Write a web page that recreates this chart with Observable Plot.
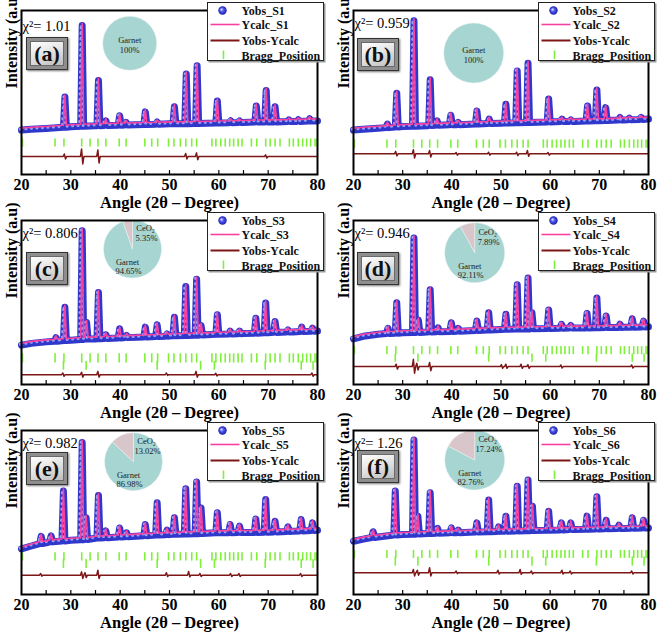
<!DOCTYPE html>
<html><head><meta charset="utf-8">
<script src="https://cdn.jsdelivr.net/npm/d3@7"></script>
<script src="https://cdn.jsdelivr.net/npm/@observablehq/plot@0.6"></script>
<style>
body{margin:0;background:#fff;}
#fig{position:relative;width:661px;height:634px;overflow:hidden;font-family:'Liberation Serif','Times New Roman',serif;}
#fig svg text{font-family:'Liberation Serif','Times New Roman',serif;}
.panel{position:absolute;width:330px;height:210px;}
.panel>svg.plot{position:absolute;left:0;top:0;}
.legend{position:absolute;width:115px;height:57px;background:#fff;border:1.5px solid #222;box-shadow:1.5px 1.5px 0 #9a9a9a;}
.legend svg{position:absolute;left:0;top:0;overflow:visible;}
.tag{position:absolute;width:40px;height:31px;border:1px solid #333;background:#8e8e8e;box-shadow:1px 1px 2px #777;}
.tag div{position:absolute;left:3px;top:3px;right:3px;bottom:3px;border:1px solid #6a6a6a;background:linear-gradient(160deg,#ffffff 0%,#e6e6e6 45%,#bdbdbd 100%);display:flex;align-items:center;justify-content:center;font-weight:bold;font-size:22px;color:#111;line-height:1;}
</style></head>
<body><div id="fig"></div>
<script>
// ---------- data ----------
const samples = ["S1","S2","S3","S4","S5","S6"];
const panelTags = ["(a)","(b)","(c)","(d)","(e)","(f)"];
const chi2 = ["1.01","0.959","0.806","0.946","0.982","1.26"];
const garnetPct = [100,100,94.65,92.11,86.98,82.76];
const ceo2Pct = [0,0,5.35,7.89,13.02,17.24];
const xTicks = [20,30,40,50,60,70,80];
const xMinor = [25,30,35,40,45,50,55,60,65,70,75];
const legendLabels = ["Yobs_", "Ycalc_", "Yobs-Ycalc", "Bragg_Position"];
const xTitle = "Angle (2θ – Degree)";
const yTitle = "Intensity (a.u)";

const garnetBragg = [20.2,26.8,28.6,32.2,33.9,35.5,37.1,39.8,41.2,45.0,46.4,47.6,49.8,50.9,52.2,53.3,54.5,55.5,58.6,59.4,60.4,61.3,62.2,63.0,63.9,64.7,66.6,67.7,69.5,70.4,71.4,72.4,74.3,75.1,76.1,77.0,77.8,78.6,79.5,79.9];
const ceo2Bragg = [28.5,33.1,47.5,56.3,59.1,69.4,76.7,79.1];

// calculated background [2θ, intensity]
const bgA = [[20,28.3],[22,28.8],[25,29.3],[30,30.3],[35,30.9],[40,31.3],[45,31.7],[50,32.1],[55,32.3],[60,32.7],[65,32.9],[70,33.3],[75,33.5],[80,33.9]];
const bgB = [[20,28.3],[22,28.8],[25,29.4],[30,30.5],[35,31.0],[40,31.5],[45,32.0],[50,32.5],[55,32.9],[60,33.3],[65,33.6],[70,34.0],[75,34.5],[80,35.0]];
const bgC = [[20,25.2],[22,26.3],[25,27.2],[30,28.2],[35,29.0],[40,29.6],[45,30.2],[50,30.8],[55,31.3],[60,31.8],[65,32.3],[70,32.8],[75,33.3],[80,33.8]];
const bgD = [[20,29.1],[22,30.6],[25,31.9],[30,32.8],[35,33.2],[40,33.6],[45,34.2],[50,34.8],[55,35.1],[60,35.4],[65,35.6],[70,35.8],[75,36.1],[80,36.4]];
const bgE = [[20,29.0],[22,30.8],[25,32.7],[30,34.3],[35,35.5],[40,36.3],[45,37.1],[50,37.8],[55,38.3],[60,38.8],[65,39.0],[70,39.2],[75,39.8],[80,40.4]];
const bgF = [[20,33.7],[22,35.0],[25,36.3],[30,37.8],[35,38.4],[40,38.8],[45,39.3],[50,39.8],[55,40.1],[60,40.4],[65,40.8],[70,41.2],[75,41.5],[80,41.8]];

// peaks [2θ, foot intensity, apex intensity]
const peaksA = [[28.8,30.0,48.5],[32.3,30.6,92],[35.6,31.0,58.5],[37.1,31.1,34.0],[39.9,31.3,37.0],[41.2,31.4,33.0],[45.1,31.7,39.4],[47.5,31.9,33.2],[51.0,32.1,42.5],[53.4,32.2,62.5],[55.6,32.3,67.5],[59.7,32.6,46.0],[62.4,32.8,34.0],[64.2,32.9,33.8],[67.6,33.2,43.0],[69.6,33.3,52.5],[71.4,33.3,42.5],[74.2,33.5,34.5],[76.1,33.6,34.6],[78.4,33.8,35.2]];
const peaksB = [[26.9,29.8,32],[28.8,30.2,50.8],[32.3,30.7,95],[35.6,31.1,59],[37.0,31.2,34],[39.8,31.5,37.4],[41.3,31.6,33],[45.1,32.0,40],[47.6,32.3,35],[51.0,32.6,44],[53.3,32.8,64.4],[55.5,32.9,69],[59.7,33.3,47.2],[62.4,33.5,35],[64.2,33.6,34.5],[67.6,33.8,43],[69.5,34.0,52.8],[71.3,34.1,42],[74.2,34.4,36],[76.1,34.6,35.5],[78.5,34.8,36]];
const peaksC = [[27.0,27.6,29.8],[28.8,28.0,48.3],[32.3,28.7,95],[33.2,28.9,39],[35.6,29.1,57.3],[37.1,29.3,31.5],[39.9,29.6,35.2],[41.3,29.8,31.2],[45.1,30.2,36.2],[47.5,30.5,37.6],[49.5,30.7,32],[51.0,30.9,42.2],[53.3,31.1,61],[55.5,31.3,65.4],[56.4,31.4,37.2],[59.7,31.8,43.7],[62.3,32.0,33.8],[64.2,32.2,33.8],[67.5,32.5,41.6],[69.5,32.8,50.9],[71.4,33.0,39.6],[74.0,33.2,34.5],[76.8,33.5,36.2],[79.0,33.7,35.6]];
const peaksD = [[27.0,32.3,35.5],[28.8,32.5,51],[32.3,32.9,90.5],[33.2,33.0,40.5],[35.6,33.3,59],[37.2,33.4,35.8],[39.9,33.6,38.9],[41.3,33.7,35.5],[45.1,34.2,39.9],[47.5,34.5,45],[51.0,34.9,44],[53.3,35.0,62],[55.5,35.1,66.2],[56.3,35.2,45],[59.7,35.4,46.6],[62.3,35.5,37.9],[64.2,35.6,37.2],[67.5,35.7,44.5],[69.5,35.8,54],[71.4,35.9,43],[74.2,36.0,38],[76.7,36.2,41.3],[79.0,36.3,39.9]];
const peaksE = [[24.0,32.3,36.7],[26.0,33.3,37.0],[28.5,33.9,64.3],[32.3,34.6,93.9],[33.1,34.8,48],[35.6,35.6,61.6],[37.1,35.8,40],[39.9,36.3,41.8],[41.3,36.5,38.8],[45.1,37.1,43.9],[47.5,37.5,57.1],[49.5,37.7,40.5],[51.0,37.9,48],[53.3,38.1,65.7],[55.5,38.3,69.8],[56.4,38.4,54],[59.7,38.8,51],[62.3,38.9,43.9],[64.2,39.0,42.9],[67.5,39.1,47.3],[69.5,39.2,59.2],[71.4,39.4,45.9],[74.0,39.7,42.5],[76.7,40.0,46.9],[79.0,40.3,44.9]];
const peaksF = [[24.0,36.0,39.5],[28.5,37.5,64.3],[32.3,38.0,95.5],[33.1,38.1,49],[35.6,38.4,63.3],[37.1,38.5,41.5],[39.9,38.8,41.8],[41.3,38.9,40.5],[45.1,39.3,44.9],[47.5,39.5,58.8],[49.5,39.7,42.5],[51.0,39.8,49],[53.3,40.0,67.3],[55.5,40.1,71],[56.4,40.2,55.1],[59.7,40.4,52],[62.3,40.6,44.9],[64.2,40.8,44.9],[67.5,41.0,49],[69.5,41.2,60.8],[71.4,41.3,46.5],[74.0,41.5,43.5],[76.7,41.6,48],[79.0,41.8,46.5]];

// difference curve: level and spikes [2θ, up, down]
const diffBase = [11.0,12.6,6.0,10.9,11.8,13.3];
const diffA = [[28.8,1.5,1.5],[32.3,4.6,4.6],[35.6,4.0,4.0],[53.4,1.8,1.5],[55.6,2.2,2.0],[69.6,1,1]];
const diffB = [[28.7,1.5,1.2],[32.3,2.5,2.5],[35.6,2,2],[41,0.8,0.8],[47.6,1,0.8],[53.3,1,1],[55.5,2,1.5],[59.7,0.8,0.8]];
const diffC = [[28.5,1,1],[32.3,1.5,1.5],[35.6,2,1.5],[49.5,1,0.5],[55.5,2,1.5],[59.5,0.8,0.8],[79,1,1]];
const diffD = [[28.8,1.5,1.5],[32.3,4.5,4],[33.0,2,2],[35.6,2.5,2.5],[50.2,1.2,1],[51.1,1.5,1],[54.2,1.5,1],[55.6,1.2,1],[62.3,1,0.8],[76.7,1,0.8]];
const diffE = [[24,1,0.6],[32.3,2,2],[33,1.5,1.5],[35.6,3,2],[49.5,1.5,0.8],[54.0,2.2,1],[56.3,1,0.8],[62.5,1,0.8],[64.2,1,0.8],[76.7,1,0.8]];
const diffF = [[32.3,2,2],[33.1,1.5,1.5],[35.6,3,2],[41,1,0.6],[49.5,1.5,0.8],[54.0,2,1],[56.3,1,0.8],[62.5,1.5,0.8],[64.2,1,0.8],[76.7,1,0.8]];

// Bragg tick intensity ranges
const garnetTickY = [[16.7,21.7],[16,21.1],[13.1,18.7],[18.2,23.1],[20.4,25.5],[22,26.9]];
const ceo2TickY = [null,null,[8.7,14.1],[13.6,18.6],[15.9,21.4],[17.3,22.9]];

// ---------- layout ----------
const bgs = [bgA,bgB,bgC,bgD,bgE,bgF];
const peaks = [peaksA,peaksB,peaksC,peaksD,peaksE,peaksF];
const diffs = [diffA,diffB,diffC,diffD,diffE,diffF];
const panelLeft = [0,331,0,331,0,331];
const panelTop = [0,0,210,210,420,420];
const marginL = [21,22,21,22,21,22];
const boxTop = [37,38,42,42,32,30];
const pieCenter = [[108.7,33.3],[120.7,43],[111.5,29],[121.7,32.7],[112.5,31.7],[121.7,30]];
const pieR = [27,30,29,30,29,30];
const W = 0.3;
const FONT = "'Liberation Serif','Times New Roman',serif";

const C = {pink:"#f7409f", blue:"#3038cc", hi:"#b4bcff", diff:"#7d1616", green:"#7ff03a", garnet:"#a6d5d2", ceo2:"#d8c6ca"};

function profile(bg, pk) {
  const pts = bg.filter(([x]) => !pk.some(([p]) => Math.abs(x - p) < W + 0.05)).map(([x,y]) => ({x,y}));
  for (const [p, foot, top] of pk) pts.push({x:p-W,y:foot},{x:p,y:top},{x:p+W,y:foot});
  return pts.sort((a,b)=>a.x-b.x);
}
function diffLine(base, sp) {
  const pts = [{x:20,y:base},{x:80,y:base}];
  for (const [s,up,down] of sp) pts.push({x:s-0.35,y:base},{x:s-0.12,y:base+up},{x:s+0.12,y:base-down},{x:s+0.35,y:base});
  return pts.sort((a,b)=>a.x-b.x);
}
const pieMark = (i) => (index, scales, values, dims) => {
  const g = d3.create("svg:g").attr("transform", `translate(${dims.marginLeft+pieCenter[i][0]},${dims.marginTop+pieCenter[i][1]})`);
  const data = [{name:"Garnet",v:garnetPct[i],c:C.garnet},{name:"CeO₂",v:ceo2Pct[i],c:C.ceo2}].filter(d=>d.v>0);
  const arcs = d3.pie().sort(null).value(d=>d.v)(data);
  const arc = d3.arc().innerRadius(0).outerRadius(pieR[i]);
  g.selectAll("path").data(arcs).join("path").attr("d",arc).attr("fill",d=>d.data.c).attr("stroke","#eef2f2").attr("stroke-width",0.5);
  const t = (x,y,s) => g.append("text").attr("x",x).attr("y",y).attr("text-anchor","middle").attr("dominant-baseline","middle")
     .attr("font-size",8.5).attr("font-weight","normal").attr("fill","#222").text(s);
  if (ceo2Pct[i] > 0) {
    t(13,-20,"CeO₂"); t(14,-9.5,ceo2Pct[i].toFixed(2)+"%");
    t(-5,14,"Garnet"); t(-4,23.5,garnetPct[i].toFixed(2)+"%");
  } else {
    t(0,-2,"Garnet"); t(0,8,garnetPct[i]+"%");
  }
  return g.node();
};

const fig = document.getElementById("fig");
for (let i = 0; i < 6; i++) {
  const prof = profile(bgs[i], peaks[i]);
  const dl = diffLine(diffBase[i], diffs[i]);
  const marks = [
    Plot.ruleX(garnetBragg, {x:d=>d, y1:garnetTickY[i][0], y2:garnetTickY[i][1], stroke:C.green, strokeWidth:1.6}),
  ];
  if (ceo2TickY[i]) marks.push(Plot.ruleX(ceo2Bragg, {x:d=>d, y1:ceo2TickY[i][0], y2:ceo2TickY[i][1], stroke:C.green, strokeWidth:1.6}));
  marks.push(
    Plot.line(dl, {x:"x", y:"y", stroke:C.diff, strokeWidth:1.5}),
    Plot.line(prof, {x:"x", y:"y", stroke:C.blue, strokeWidth:7, dy:2, strokeLinejoin:"round", strokeLinecap:"round"}),
    Plot.line(prof, {x:"x", y:"y", stroke:C.hi, strokeWidth:3.2, dx:-1, dy:1, strokeDasharray:"0 5.5", strokeLinecap:"round", strokeOpacity:0.8}),
    Plot.line(prof, {x:"x", y:"y", stroke:C.pink, strokeWidth:1.6}),
    Plot.ruleX(xMinor, {x:d=>d, y1:0, y2:2.4, stroke:"black", strokeWidth:1.2}),
    Plot.text([`χ²= ${chi2[i]}`], {text:d=>d, frameAnchor:"top-left", textAnchor:"start", lineAnchor:"middle", dx:1, dy:i===0?16:13, fontSize:14.5, fontWeight:"normal", fontFamily:FONT}),
    Plot.text([yTitle], {text:d=>d, frameAnchor:"left", rotate:-90, dx:-10, dy:-4, fontSize:16, fontFamily:FONT}),
    Plot.text([xTitle], {text:d=>d, frameAnchor:"bottom", dy:28, lineAnchor:"middle", fontSize:16.5, fontFamily:FONT}),
    pieMark(i),
    Plot.frame({stroke:"black", strokeWidth:2})
  );
  const svg = Plot.plot({
    width:330, height:210, marginLeft:marginL[i], marginRight:13, marginTop:10, marginBottom:36,
    x:{domain:[20,80], ticks:xTicks, tickSize:0, tickPadding:4, label:null},
    y:{domain:[0,100], axis:null},
    style:{fontFamily:FONT, fontSize:"16px", fontWeight:"bold", background:"transparent", color:"black", overflow:"visible"},
    marks
  });
  svg.classList.add("plot");
  const panel = document.createElement("div");
  panel.className = "panel";
  panel.style.left = panelLeft[i] + "px";
  panel.style.top = panelTop[i] + "px";
  panel.appendChild(svg);
  fig.appendChild(panel);

  // panel tag
  const tag = document.createElement("div");
  tag.className = "tag";
  tag.style.left = "26px"; tag.style.top = boxTop[i] + "px";
  const inner = document.createElement("div"); inner.textContent = panelTags[i];
  tag.appendChild(inner); panel.appendChild(tag);

  // legend
  const lg = document.createElement("div");
  lg.className = "legend";
  lg.style.left = (330 - 13 - 110) + "px"; lg.style.top = "2px";
  panel.appendChild(lg);
  const s = d3.select(lg).append("svg").attr("width",115).attr("height",57);
  const gid = "bead"+i;
  const rg = s.append("defs").append("radialGradient").attr("id",gid).attr("fx","35%").attr("fy","35%");
  rg.append("stop").attr("offset","0%").attr("stop-color","#eef0ff");
  rg.append("stop").attr("offset","45%").attr("stop-color","#5058f0");
  rg.append("stop").attr("offset","100%").attr("stop-color","#1a1ca8");
  s.append("circle").attr("cx",14.5).attr("cy",7.5).attr("r",4.2).attr("fill",`url(#${gid})`);
  s.append("line").attr("x1",2.5).attr("x2",31.5).attr("y1",21.5).attr("y2",21.5).attr("stroke",C.pink).attr("stroke-width",1.6);
  s.append("line").attr("x1",2.5).attr("x2",31.5).attr("y1",37.5).attr("y2",37.5).attr("stroke",C.diff).attr("stroke-width",2);
  s.append("line").attr("x1",15.5).attr("x2",15.5).attr("y1",47.5).attr("y2",56).attr("stroke",C.green).attr("stroke-width",1.6);
  const labs = [legendLabels[0]+samples[i], legendLabels[1]+samples[i], legendLabels[2], legendLabels[3]];
  const ys = [11.5,25.5,41.5,56.5];
  labs.forEach((l,k) => s.append("text").attr("x",33.5).attr("y",ys[k]).attr("font-size",12).attr("font-weight","bold")
    .attr("fill","#111").text(l));
}
</script></body></html>
